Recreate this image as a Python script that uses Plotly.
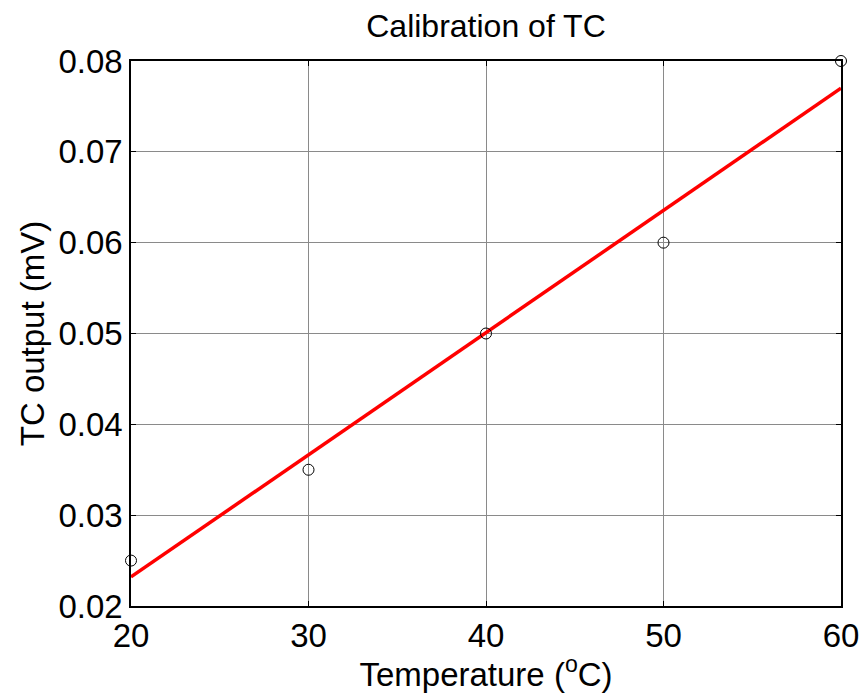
import plotly.graph_objects as go

# Data
temperature = [20, 30, 40, 50, 60]
tc_output = [0.025, 0.035, 0.050, 0.060, 0.080]

fit_temperature = [20, 60]
fit_output = [0.0232, 0.0770]

x_ticks = [20, 30, 40, 50, 60]
y_ticks = [0.02, 0.03, 0.04, 0.05, 0.06, 0.07, 0.08]

FONT = "Liberation Sans, Arial, sans-serif"

fig = go.Figure()
fig.add_trace(go.Scatter(
    x=fit_temperature, y=fit_output, mode="lines",
    line=dict(color="#ff0000", width=3.5),
    showlegend=False, hoverinfo="skip"))
fig.add_trace(go.Scatter(
    x=temperature, y=tc_output, mode="markers",
    marker=dict(symbol="circle-open", size=11, color="black",
                line=dict(color="black", width=1)),
    cliponaxis=False, showlegend=False))

axis_common = dict(
    showline=True, linecolor="black", linewidth=1.5, mirror="allticks",
    ticks="inside", ticklen=5, tickcolor="black", tickwidth=1,
    showgrid=True, gridcolor="#8a8a8a", gridwidth=1, zeroline=False,
    automargin=False,
    tickfont=dict(family=FONT, size=33, color="black"),
)

fig.update_layout(
    width=862, height=693,
    margin=dict(l=131, r=21, t=61, b=87),
    paper_bgcolor="white", plot_bgcolor="white",
    title=dict(text="Calibration of TC", x=0.5638, xanchor="center",
               y=1 - 26 / 693, yanchor="middle",
               font=dict(family=FONT, size=32, color="black")),
    xaxis=dict(range=[20, 60], tickvals=x_ticks,
               ticktext=[str(v) for v in x_ticks],
               title=dict(text="Temperature (<sup>o</sup>C)", standoff=6,
                          font=dict(family=FONT, size=33, color="black")),
               **axis_common),
    yaxis=dict(range=[0.02, 0.08], tickvals=y_ticks,
               ticktext=[f"{v:.2f}" for v in y_ticks],
               title=dict(text="TC output (mV)", standoff=4,
                          font=dict(family=FONT, size=33, color="black")),
               **axis_common),
)

fig.write_html("out.html")
